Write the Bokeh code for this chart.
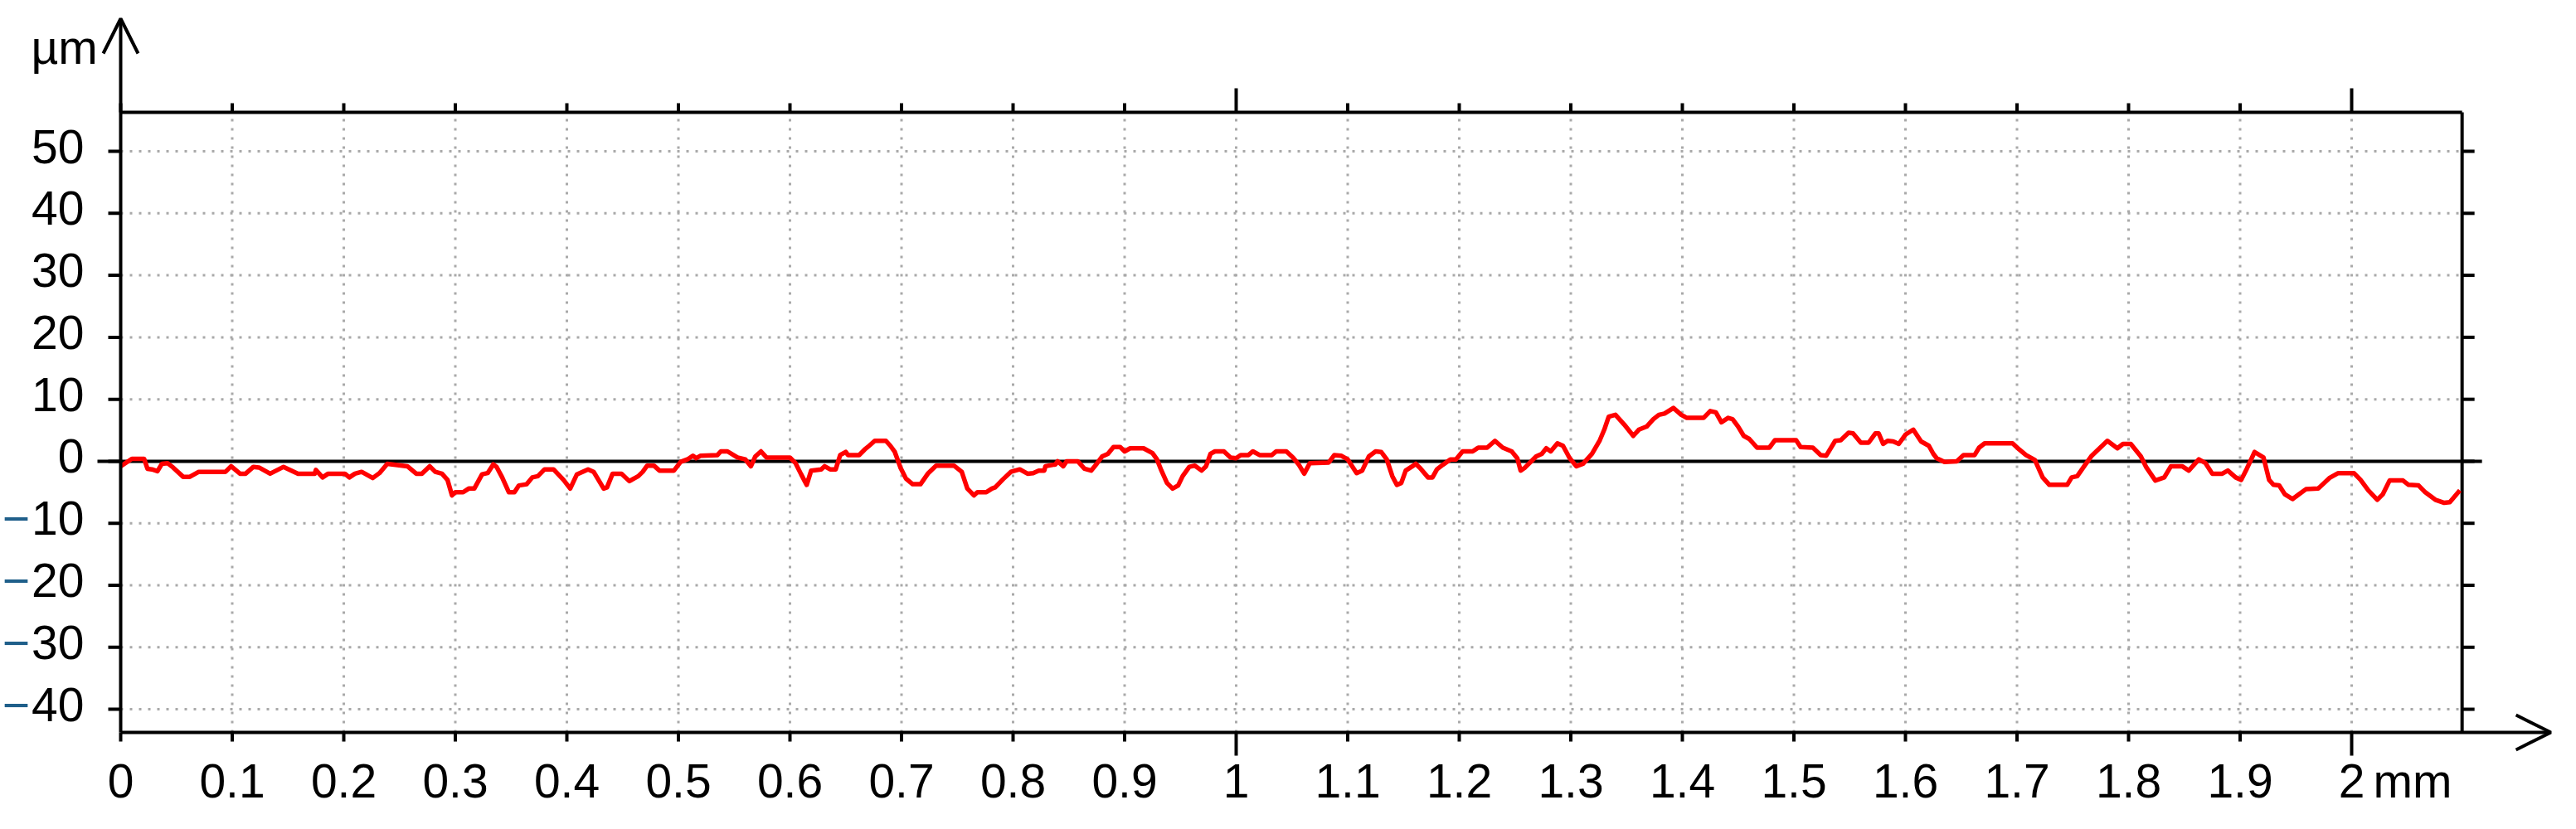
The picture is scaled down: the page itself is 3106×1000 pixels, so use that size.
from bokeh.plotting import figure
from bokeh.models import Range1d, Arrow, OpenHead, LabelSet, ColumnDataSource
from bokeh.core.properties import value
from bokeh.embed import file_html
from bokeh.resources import INLINE

# ---------------- data ----------------
x_mm = [0.000, 0.010, 0.021, 0.024, 0.028, 0.033, 0.037, 0.042, 0.047, 0.056, 0.062, 0.070, 0.094, 0.099,
        0.107, 0.112, 0.119, 0.124, 0.134, 0.146, 0.159, 0.174, 0.175, 0.181, 0.186, 0.201, 0.205, 0.210,
        0.216, 0.219, 0.226, 0.232, 0.239, 0.257, 0.265, 0.270, 0.277, 0.282, 0.288, 0.293, 0.297, 0.300,
        0.307, 0.312, 0.317, 0.324, 0.329, 0.334, 0.337, 0.342, 0.348, 0.353, 0.357, 0.364, 0.369, 0.374,
        0.380, 0.388, 0.397, 0.403, 0.409, 0.419, 0.424, 0.433, 0.436, 0.441, 0.449, 0.456, 0.464, 0.468,
        0.472, 0.478, 0.483, 0.496, 0.502, 0.508, 0.513, 0.516, 0.520, 0.535, 0.538, 0.544, 0.553, 0.560,
        0.565, 0.569, 0.574, 0.579, 0.600, 0.605, 0.610, 0.615, 0.619, 0.628, 0.631, 0.636, 0.641, 0.645,
        0.650, 0.652, 0.662, 0.667, 0.671, 0.676, 0.686, 0.690, 0.694, 0.699, 0.704, 0.710, 0.717, 0.724,
        0.731, 0.747, 0.754, 0.759, 0.765, 0.768, 0.776, 0.781, 0.784, 0.791, 0.798, 0.806, 0.813, 0.818,
        0.823, 0.828, 0.829, 0.838, 0.840, 0.845, 0.848, 0.858, 0.864, 0.870, 0.875, 0.880, 0.885, 0.890,
        0.896, 0.900, 0.905, 0.917, 0.925, 0.929, 0.933, 0.938, 0.943, 0.948, 0.952, 0.958, 0.963, 0.969,
        0.973, 0.977, 0.981, 0.989, 0.995, 1.000, 1.004, 1.011, 1.015, 1.021, 1.032, 1.036, 1.045, 1.051,
        1.056, 1.061, 1.066, 1.083, 1.088, 1.094, 1.100, 1.108, 1.113, 1.119, 1.125, 1.130, 1.135, 1.140,
        1.144, 1.148, 1.152, 1.158, 1.161, 1.165, 1.172, 1.176, 1.180, 1.185, 1.192, 1.197, 1.203, 1.212,
        1.217, 1.225, 1.232, 1.239, 1.247, 1.252, 1.255, 1.259, 1.269, 1.274, 1.278, 1.282, 1.288, 1.293,
        1.299, 1.305, 1.311, 1.319, 1.326, 1.330, 1.334, 1.340, 1.348, 1.356, 1.361, 1.368, 1.374, 1.379,
        1.384, 1.392, 1.399, 1.404, 1.419, 1.425, 1.430, 1.435, 1.441, 1.445, 1.450, 1.455, 1.460, 1.467,
        1.478, 1.483, 1.502, 1.506, 1.517, 1.524, 1.529, 1.537, 1.542, 1.549, 1.553, 1.560, 1.567, 1.573,
        1.576, 1.580, 1.584, 1.589, 1.594, 1.600, 1.607, 1.614, 1.621, 1.625, 1.628, 1.635, 1.646, 1.652,
        1.662, 1.666, 1.671, 1.696, 1.702, 1.708, 1.716, 1.723, 1.729, 1.745, 1.749, 1.754, 1.761, 1.767,
        1.774, 1.781, 1.790, 1.795, 1.802, 1.811, 1.816, 1.824, 1.832, 1.838, 1.848, 1.854, 1.863, 1.869,
        1.875, 1.884, 1.889, 1.896, 1.901, 1.906, 1.913, 1.921, 1.926, 1.930, 1.935, 1.940, 1.947, 1.953,
        1.959, 1.970, 1.980, 1.988, 2.002, 2.008, 2.015, 2.023, 2.028, 2.034, 2.046, 2.051, 2.060, 2.066,
        2.075, 2.083, 2.088, 2.097]
z_um = [-0.8, 0.4, 0.4, -1.2, -1.3, -1.6, -0.4, -0.3, -1.0, -2.5, -2.5, -1.7, -1.7, -0.8,
        -2.0, -2.0, -0.9, -1.0, -2.0, -0.9, -2.0, -2.0, -1.4, -2.6, -2.0, -2.0, -2.6, -2.0,
        -1.7, -2.0, -2.7, -1.9, -0.4, -0.8, -2.0, -2.0, -0.8, -1.7, -2.0, -3.0, -5.5, -5.0,
        -5.0, -4.4, -4.4, -2.1, -1.9, -0.5, -0.9, -2.6, -5.0, -5.0, -3.9, -3.7, -2.6, -2.4,
        -1.3, -1.3, -3.0, -4.4, -2.1, -1.3, -1.7, -4.4, -4.2, -2.0, -2.0, -3.2, -2.4, -1.7,
        -0.7, -0.7, -1.5, -1.5, -0.1, 0.3, 0.9, 0.5, 0.9, 1.0, 1.6, 1.6, 0.6, 0.3,
        -0.8, 0.8, 1.6, 0.6, 0.6, -0.3, -2.1, -3.8, -1.5, -1.3, -0.8, -1.3, -1.3, 1.0,
        1.5, 1.0, 1.0, 1.9, 2.5, 3.3, 3.3, 2.5, 1.5, -1.0, -2.8, -3.7, -3.7, -1.9,
        -0.7, -0.7, -1.7, -4.4, -5.5, -5.0, -5.0, -4.4, -4.2, -2.9, -1.7, -1.3, -2.0, -1.9,
        -1.5, -1.5, -0.8, -0.5, 0.0, -0.8, 0.0, 0.0, -1.2, -1.5, -0.4, 0.8, 1.2, 2.3,
        2.3, 1.6, 2.1, 2.1, 1.3, 0.3, -1.5, -3.5, -4.4, -3.9, -2.4, -0.9, -0.7, -1.5,
        -0.8, 1.2, 1.6, 1.6, 0.6, 0.5, 1.0, 1.0, 1.6, 1.0, 1.0, 1.6, 1.6, 0.6,
        -0.5, -2.0, -0.3, -0.2, 1.0, 0.9, 0.3, -1.9, -1.5, 0.8, 1.6, 1.5, 0.3, -2.4,
        -3.8, -3.5, -1.5, -0.8, -0.4, -1.1, -2.6, -2.6, -1.3, -0.6, 0.3, 0.3, 1.6, 1.6,
        2.2, 2.2, 3.3, 2.2, 1.6, 0.5, -1.5, -1.0, 0.8, 1.2, 2.1, 1.6, 2.9, 2.5,
        0.5, -0.8, -0.4, 1.2, 3.4, 5.1, 7.2, 7.5, 5.9, 4.1, 5.1, 5.6, 6.8, 7.5,
        7.7, 8.6, 7.5, 7.0, 7.0, 8.1, 7.9, 6.3, 7.0, 6.8, 5.6, 4.1, 3.6, 2.2,
        2.2, 3.4, 3.4, 2.3, 2.2, 1.0, 0.9, 3.3, 3.4, 4.6, 4.5, 3.0, 3.0, 4.5,
        4.5, 2.8, 3.3, 3.2, 2.8, 4.3, 5.1, 3.2, 2.5, 1.2, 0.5, -0.1, 0.0, 1.0,
        1.0, 2.2, 2.9, 2.9, 1.9, 1.0, 0.2, -2.6, -3.8, -3.8, -2.6, -2.4, -0.6, 0.9,
        2.1, 3.3, 2.1, 2.8, 2.8, 0.8, -1.0, -3.1, -2.6, -0.8, -0.8, -1.5, 0.3, -0.3,
        -2.0, -2.0, -1.5, -2.6, -3.0, -1.2, 1.5, 0.6, -3.0, -3.8, -3.9, -5.3, -6.1, -5.3,
        -4.5, -4.4, -2.7, -1.9, -1.9, -3.0, -4.7, -6.2, -5.3, -3.1, -3.1, -3.8, -3.9, -5.0,
        -6.2, -6.7, -6.6, -4.7]

x_ticks = [0.0, 0.1, 0.2, 0.3, 0.4, 0.5, 0.6, 0.7, 0.8, 0.9, 1.0,
           1.1, 1.2, 1.3, 1.4, 1.5, 1.6, 1.7, 1.8, 1.9, 2.0]
x_tick_labels = ["0", "0.1", "0.2", "0.3", "0.4", "0.5", "0.6", "0.7", "0.8", "0.9", "1",
                 "1.1", "1.2", "1.3", "1.4", "1.5", "1.6", "1.7", "1.8", "1.9", "2"]
x_long_ticks = [1.0, 2.0]
y_ticks = [-40, -30, -20, -10, 0, 10, 20, 30, 40, 50]
y_tick_labels = ["\u221240", "\u221230", "\u221220", "\u221210", "0", "10", "20", "30", "40", "50"]
x_unit = "mm"
y_unit = "\u00b5m"

# ---------------- layout (pixel geometry of the original) ----------------
W, H = 3088, 982
X0, X1 = 0.0, 2.099          # plotted box, mm
Y0, Y1 = -43.74, 56.29       # plotted box, um
PX_X = 1345.0                # px per mm
PX_Y = 7.478                 # px per um
BOX_L, BOX_T = 145, 135      # box position inside the canvas
def dx(px): return px / PX_X
def dy(px): return px / PX_Y

XA = X0 - dx(BOX_L); XB = XA + dx(W)
YB = Y1 + dy(BOX_T); YA = YB - dy(H)

FSPX = 57
TXT = dict(text_font=value("Liberation Sans"), text_font_size=value(f"{FSPX}px"))
DIGIT_W = 0.556 * FSPX        # advance of a digit in Liberation Sans
MINUS_BLUE = "#1f5f8a"
GRID = "#a9a9a9"

p = figure(width=W, height=H, x_range=Range1d(XA, XB), y_range=Range1d(YA, YB),
           output_backend="svg", toolbar_location=None,
           x_axis_location=None, y_axis_location=None, min_border=0)
p.grid.visible = False
p.outline_line_color = None
p.background_fill_color = "white"
p.border_fill_color = "white"

n_x, n_y = len(x_ticks), len(y_ticks)

# dotted grid
p.segment(x0=x_ticks[1:], y0=[Y0] * (n_x - 1), x1=x_ticks[1:], y1=[Y1] * (n_x - 1),
          line_color=GRID, line_width=3, line_dash="3 8")
p.segment(x0=[X0] * n_y, y0=y_ticks, x1=[X1] * n_y, y1=y_ticks,
          line_color=GRID, line_width=3, line_dash="3 8")

# zero line (runs a little past both vertical axes)
p.segment(x0=[X0 - dx(28)], y0=[0], x1=[X1 + dx(24)], y1=[0], line_color="black", line_width=4)

# box: top and right edges
p.segment(x0=[X0, X1], y0=[Y1, Y0], x1=[X1, X1], y1=[Y1, Y1], line_color="black", line_width=4)

# ticks
def tick_len_x(t, short, long):
    return long if t in x_long_ticks else short
p.segment(x0=x_ticks, y0=[Y0] * n_x, x1=x_ticks,
          y1=[Y0 - dy(tick_len_x(t, 11, 28)) for t in x_ticks], line_color="black", line_width=4)
p.segment(x0=x_ticks, y0=[Y1] * n_x, x1=x_ticks,
          y1=[Y1 + dy(tick_len_x(t, 11, 29)) for t in x_ticks], line_color="black", line_width=4)
p.segment(x0=[X0] * n_y, y0=y_ticks, x1=[X0 - dx(15)] * n_y, y1=y_ticks, line_color="black", line_width=4)
p.segment(x0=[X1] * n_y, y0=y_ticks, x1=[X1 + dx(15)] * n_y, y1=y_ticks, line_color="black", line_width=4)

# profile
p.line(x_mm, z_um, line_color="#ff0000", line_width=5.5, line_join="round")

# axes with arrow heads (left and bottom)
p.add_layout(Arrow(end=OpenHead(size=42, line_width=4, line_color="black"), x_start=X0, y_start=Y0,
                   x_end=X0, y_end=Y1 + dy(113), line_color="black", line_width=4))
p.add_layout(Arrow(end=OpenHead(size=42, line_width=4, line_color="black"), x_start=X0, y_start=Y0,
                   x_end=X1 + dx(107), y_end=Y0, line_color="black", line_width=4))

def labels(xs, ys, texts, align, baseline, color="black"):
    src = ColumnDataSource(dict(x=xs, y=ys, text=texts))
    p.add_layout(LabelSet(x="x", y="y", text="text", source=src, text_align=align,
                          text_baseline=baseline, text_color=color, **TXT))

# x tick labels and unit
labels(x_ticks, [Y0 - dy(78)] * n_x, x_tick_labels, "center", "alphabetic")
labels([x_ticks[-1] + dx(26)], [Y0 - dy(78)], [x_unit], "left", "alphabetic")

# y tick labels (the minus sign is blue in the original)
digits = [s.lstrip("\u2212") for s in y_tick_labels]
neg_y = [v for v, s in zip(y_ticks, y_tick_labels) if s.startswith("\u2212")]
neg_w = [DIGIT_W * len(s.lstrip("\u2212")) for s in y_tick_labels if s.startswith("\u2212")]
labels([X0 - dx(44)] * n_y, [v + dy(6) for v in y_ticks], digits, "right", "middle")
labels([X0 - dx(46 + w) for w in neg_w], [v + dy(6) for v in neg_y], ["\u2212"] * len(neg_y),
       "right", "middle", MINUS_BLUE)
labels([X0 - dx(108)], [Y1 + dy(59)], [y_unit], "left", "alphabetic")

open("out.html", "w").write(file_html(p, INLINE))
